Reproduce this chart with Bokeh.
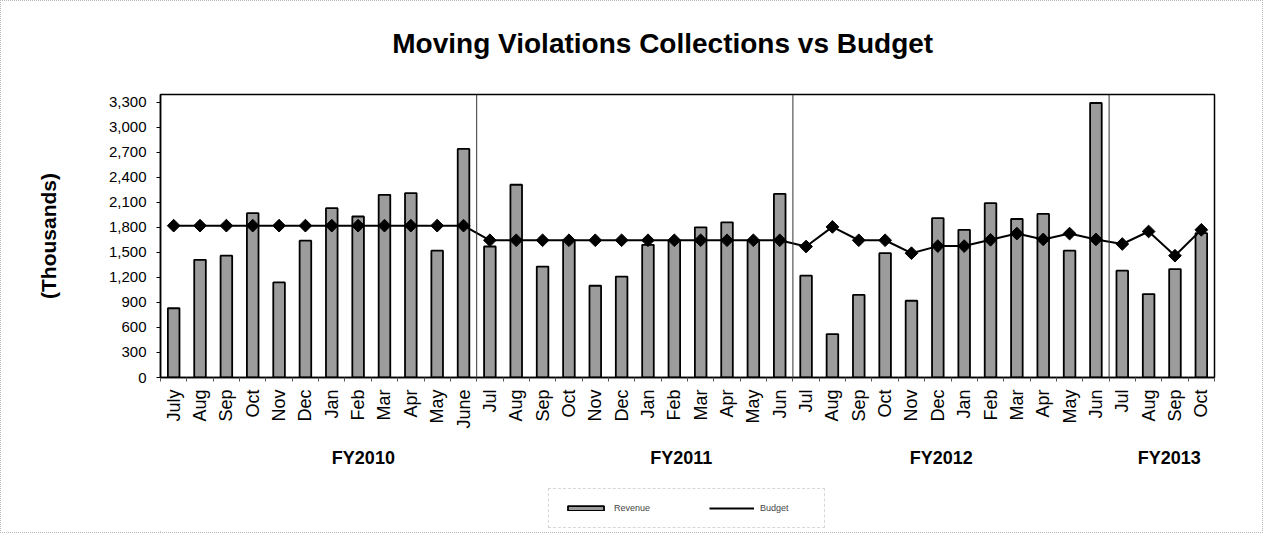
import math
from bokeh.plotting import figure
from bokeh.layouts import column
from bokeh.core.properties import value
from bokeh.models import (Range1d, FixedTicker, NumeralTickFormatter, Span, Label,
                          Legend, LegendItem, ColumnDataSource, LinearAxis)
from bokeh.embed import file_html
from bokeh.resources import INLINE

months = ["July", "Aug", "Sep", "Oct", "Nov", "Dec", "Jan", "Feb", "Mar", "Apr", "May", "June",
          "Jul", "Aug", "Sep", "Oct", "Nov", "Dec", "Jan", "Feb", "Mar", "Apr", "May", "Jun",
          "Jul", "Aug", "Sep", "Oct", "Nov", "Dec", "Jan", "Feb", "Mar", "Apr", "May", "Jun",
          "Jul", "Aug", "Sep", "Oct"]
revenue = [830, 1410, 1460, 1970, 1140, 1640, 2030, 1930, 2190, 2210, 1520, 2740,
           1570, 2310, 1330, 1650, 1100, 1210, 1590, 1640, 1800, 1860, 1640, 2200,
           1220, 520, 990, 1490, 920, 1910, 1770, 2090, 1900, 1960, 1520, 3290,
           1280, 1000, 1300, 1730]
budget = [1820, 1820, 1820, 1820, 1820, 1820, 1820, 1820, 1820, 1820, 1820, 1820,
          1645, 1645, 1645, 1645, 1645, 1645, 1645, 1645, 1645, 1645, 1645, 1645,
          1570, 1805, 1645, 1645, 1490, 1575, 1575, 1650, 1725, 1655, 1725, 1655,
          1600, 1750, 1460, 1770]
fiscal_years = ["FY2010", "FY2011", "FY2012", "FY2013"]
fy_sizes = [12, 12, 12, 4]
fy_label_x = [7.7, 19.76, 29.63, 38.28]
y_ticks = [0, 300, 600, 900, 1200, 1500, 1800, 2100, 2400, 2700, 3000, 3300]
title_text = "Moving Violations Collections vs Budget"

FONT = "Liberation Sans"
BAR_FILL = "#9c9c9c"
n = len(months)
xs = [i + 0.5 for i in range(n)]
src = ColumnDataSource(dict(x=xs, rev=revenue, bud=budget))

W = 1261
H_TITLE = 70
H_MAIN = 413
H_LEG = 48
x_range = Range1d(0, n)

# title strip
t = figure(width=W, height=H_TITLE, output_backend="svg", toolbar_location=None,
           x_range=x_range, y_range=Range1d(0, H_TITLE),
           min_border_left=0, min_border_right=0, min_border_top=0, min_border_bottom=0)
t.axis.visible = False
t.grid.visible = False
t.outline_line_color = None
t.border_fill_color = "white"
t.add_layout(Label(x=19.06, y=H_TITLE - 42, text=title_text, text_font=FONT,
                   text_font_size="28px", text_font_style="bold", text_color="black",
                   text_align="center", text_baseline="middle"))

p = figure(width=W, height=H_MAIN, output_backend="svg", toolbar_location=None,
           x_range=x_range, y_range=Range1d(0, 3392),
           min_border_left=159, min_border_right=48, min_border_top=93 - H_TITLE,
           min_border_bottom=H_TITLE + H_MAIN - 376)
p.xgrid.visible = False
p.ygrid.visible = False
p.outline_line_color = "black"
p.outline_line_width = 1.5
p.background_fill_color = "white"
p.border_fill_color = "white"

# x axis
p.xaxis.ticker = FixedTicker(ticks=xs, minor_ticks=list(range(n + 1)))
p.xaxis.major_label_overrides = {x: m for x, m in zip(xs, months)}
p.xaxis.major_label_orientation = math.pi / 2
p.xaxis.major_tick_line_color = None
p.xaxis.minor_tick_line_color = "#555555"
p.xaxis.minor_tick_out = 4
p.xaxis.minor_tick_in = 0
p.xaxis.major_label_standoff = 6
p.xaxis.major_label_text_font = FONT
p.xaxis.major_label_text_font_size = "18px"
p.xaxis.major_label_text_color = "black"
p.xaxis.axis_line_color = "black"
p.xaxis.axis_line_width = 1.5

# fiscal-year label axis
fy_axis = LinearAxis(ticker=FixedTicker(ticks=fy_label_x),
                     major_label_overrides={x: s for x, s in zip(fy_label_x, fiscal_years)},
                     axis_line_color=None, major_tick_line_color=None,
                     minor_tick_line_color=None, major_label_standoff=10,
                     major_label_text_font=FONT, major_label_text_font_size="18px",
                     major_label_text_font_style="bold", major_label_text_color="black")
p.add_layout(fy_axis, "below")

# y axis
p.yaxis.ticker = FixedTicker(ticks=y_ticks)
p.yaxis.formatter = NumeralTickFormatter(format="0,0")
p.yaxis.major_tick_out = 4
p.yaxis.major_tick_in = 0
p.yaxis.minor_tick_line_color = None
p.yaxis.major_label_standoff = 10
p.yaxis.major_label_text_font = FONT
p.yaxis.major_label_text_font_size = "15px"
p.yaxis.major_label_text_color = "black"
p.yaxis.axis_line_color = "black"
p.yaxis.axis_line_width = 1.5
p.yaxis.axis_label = "(Thousands)"
p.yaxis.axis_label_text_font = FONT
p.yaxis.axis_label_text_font_size = "21px"
p.yaxis.axis_label_text_font_style = "bold"
p.yaxis.axis_label_text_color = "black"
p.yaxis.axis_label_standoff = 46

# fiscal year separators
edge = 0
for s in fy_sizes[:-1]:
    edge += s
    p.add_layout(Span(location=edge, dimension="height", line_color="#333333", line_width=1))

p.vbar(x="x", top="rev", width=0.44, source=src, fill_color=BAR_FILL,
       line_color="black", line_width=1.8)
p.line(x="x", y="bud", source=src, line_color="black", line_width=2)
p.scatter(x="x", y="bud", source=src, marker="square", angle=math.pi / 4, size=9,
          fill_color="black", line_color="black")

# legend strip (separate small figure so the legend sits below the axes)
q = figure(width=W, height=H_LEG, output_backend="svg", toolbar_location=None,
           x_range=Range1d(10, 11), y_range=Range1d(10, 11),
           min_border_left=0, min_border_right=0, min_border_top=0, min_border_bottom=0)
q.axis.visible = False
q.grid.visible = False
q.outline_line_color = None
q.border_fill_color = "white"
leg_bar = q.vbar(x=[0], top=[1], width=0.4, fill_color=BAR_FILL, line_color="black",
                 line_width=1.8)
leg_line = q.line(x=[0, 1], y=[0, 0], line_color="black", line_width=2)
legend = Legend(items=[LegendItem(label="Revenue", renderers=[leg_bar]),
                       LegendItem(label="Budget", renderers=[leg_line])],
                orientation="horizontal", location=(388, 4),
                label_text_font=FONT, label_text_font_size="9px",
                glyph_width=45, glyph_height=6, label_width=50, spacing=45,
                padding=14, margin=0, label_standoff=6,
                border_line_color="#b0b0b0", border_line_dash="2 2",
                background_fill_color="white")
q.add_layout(legend, "center")

layout = column(t, p, q, spacing=0)
layout.styles = {"border": "1px dotted #b8b8b8"}

open("out.html", "w").write(file_html(layout, INLINE))
